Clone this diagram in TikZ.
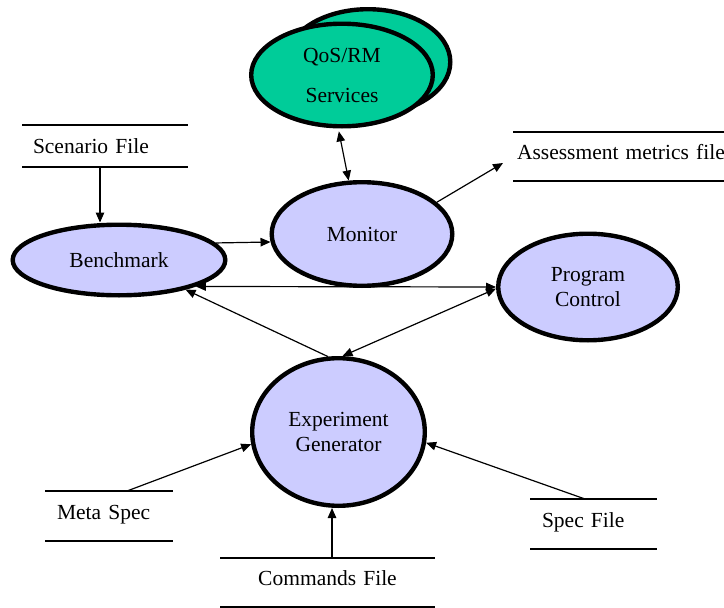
\documentclass[tikz,border=0pt]{standalone}
\usepackage{fontspec}
\setmainfont{Liberation Serif}
\usetikzlibrary{arrows.meta,shapes.geometric}
\definecolor{lav}{HTML}{CCCCFF}
\definecolor{qosgreen}{HTML}{00CC99}
\pgfdeclarelayer{back}
\pgfsetlayers{back,main}

\begin{document}
\begin{tikzpicture}[x=1pt,y=-1pt,
  every node/.style={font=\fontsize{21.5}{25.5}\selectfont},
  proc/.style={ellipse, draw, line width=4.4pt, fill=lav, inner sep=0pt,
               outer sep=2.2pt, align=center},
  filebox/.style={inner ysep=0pt, outer sep=0pt, text height=14pt,
                  text depth=8pt, align=left},
  filerule/.style={line width=1.3pt},
  arr/.style={line width=1.2pt, -{Triangle[length=10pt,width=8.5pt]}},
  darr/.style={line width=1.2pt,
    {Triangle[length=10pt,width=8.5pt]}-{Triangle[length=10pt,width=8.5pt]}}]

\useasboundingbox (0,0) rectangle (724,608);

% processes
\node[proc, fill=qosgreen, minimum width=164.6pt, minimum height=105.6pt] (qosb) at (368,62) {};
\node[proc, fill=qosgreen, minimum width=181.6pt, minimum height=102.6pt] (qos) at (342,75) {QoS/RM\\[14.5pt]Services};
\node[proc, minimum width=180.6pt, minimum height=103.6pt] (mon) at (362,234) {Monitor};
\node[proc, minimum width=212.6pt, minimum height=70.6pt] (bm) at (119,260) {Benchmark};
\node[proc, minimum width=179.6pt, minimum height=106.6pt] (pc) at (588,287) {Program\\Control};
\node[proc, minimum width=172.6pt, minimum height=147.6pt] (eg) at (338.5,432) {Experiment\\Generator};

% data stores
\node[filebox, text width=144pt, inner xsep=11pt, minimum height=42pt,
      text height=17pt, text depth=3pt] (sf) at (105,146) {Scenario File};
\node[filebox, text width=215pt, inner xsep=4pt, minimum height=49pt] (am) at (624.5,156.5) {Assessment metrics file};
\node[filebox, text width=104pt, inner xsep=12pt, minimum height=50pt] (ms) at (109,516) {Meta Spec};
\node[filebox, text width=103pt, inner xsep=12pt, minimum height=50pt] (spf) at (593.5,524) {Spec File};
\node[filebox, text width=215pt, inner xsep=0pt, align=center, minimum height=49pt] (cf) at (327.5,582.5) {Commands File};

\foreach \f in {sf,am,ms,spf,cf}
  \draw[filerule] (\f.north west) -- (\f.north east) (\f.south west) -- (\f.south east);

% data flows
\begin{pgfonlayer}{back}
\coordinate (amin) at ([shift={(-10,6.5)}]am.west);
\draw[darr, shorten <=3pt] (qos.-94) -- (mon.104);
\draw[arr] (mon.23) -- (amin);
\draw[arr] (bm.10.7) -- (mon.185);
\draw[darr] (pc.west) -- (bm.-19.7);
\draw[arr] (eg.98) -- (bm.-24.4);
\draw[darr] (eg.87) -- (pc.181);
\draw[arr] ([xshift=18pt]ms.north) -- (eg.188);
\draw[arr] ([xshift=-8.5pt]spf.north) -- (eg.-7.6);
\draw[arr] ([xshift=4.5pt]cf.north) -- ([xshift=4.5pt]cf.north |- eg.south);
\draw[arr] ([xshift=-5pt]sf.south) -- ([xshift=-5pt]sf.south |- bm.north);
\end{pgfonlayer}
\end{tikzpicture}
\end{document}
